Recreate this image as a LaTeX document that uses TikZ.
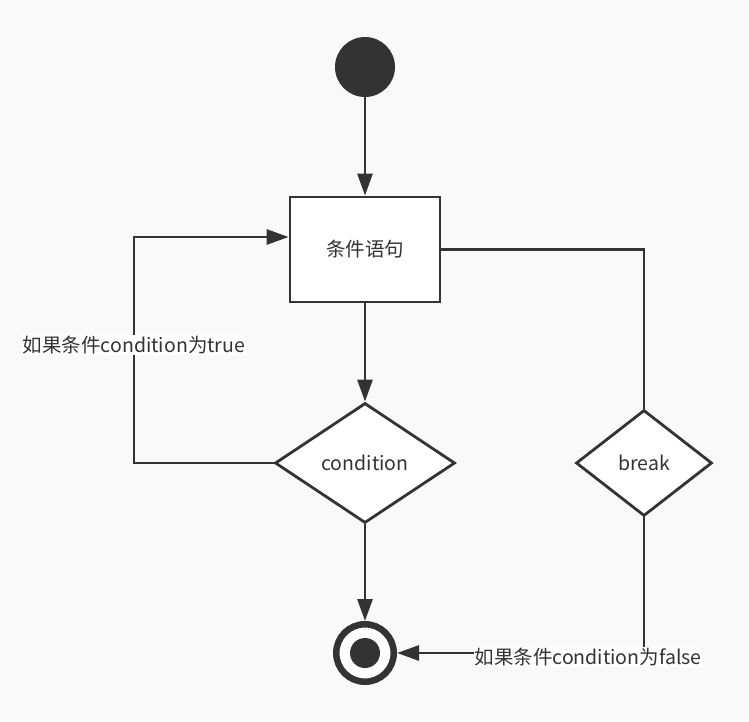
\documentclass[tikz,border=0pt]{standalone}
\usepackage{fontspec}
\setmainfont{Noto Sans CJK SC}
\usetikzlibrary{shapes.geometric,arrows.meta}
\definecolor{ink}{HTML}{333333}
\definecolor{paper}{HTML}{F9F9F9}
\tikzset{
	flow/.style={ink, line width=2.8pt},
	arr/.style={flow, -{Triangle[length=22pt,width=15pt]}},
	startdot/.style={circle, fill=ink, inner sep=0pt, minimum size=60pt},
	endring/.style={circle, draw=ink, line width=6.5pt, fill=white, inner sep=0pt, minimum size=57.5pt},
	stmtbox/.style={rectangle, draw=ink, line width=2.8pt, fill=white, minimum width=150pt, minimum height=105pt},
	decision/.style={diamond, draw=ink, line width=2.8pt, fill=white, inner sep=0pt},
	lbl/.style={fill=white, inner sep=1pt, text=ink}
}

\begin{document}
\begin{tikzpicture}[x=1pt,y=-1pt, font=\fontsize{19.5}{22}\selectfont, text=ink]
\useasboundingbox[fill=paper] (0,0) rectangle (749,721);
\node[startdot] (start) at (365,67) {};
\node[stmtbox] (stmt) at (365,249.5) {条件语句};
\node[decision, minimum width=180pt, minimum height=120pt] (cond) at (365,463) {condition};
\node[decision, minimum width=136pt, minimum height=106pt] (brk) at (644,463) {break};
\node[endring] (stop) at (365,653) {};
\node[startdot, minimum size=30pt] (stopdot) at (stop) {};
\coordinate (looptop) at (134,237);
\draw[arr] (start) -- (stmt);
\draw[arr] (stmt) -- (cond);
\draw[arr] (cond.west) -| (looptop) -- (stmt.west |- looptop);
\draw[arr] (cond) -- (stop);
\draw[flow] (stmt.east) -| (brk.north);
\draw[arr] (brk.south) |- (stop.east);
\node[lbl] (truelbl) at (134,345) {如果条件condition为true};
\node[lbl] (falselbl) at (588,657) {如果条件condition为false};
\end{tikzpicture}
\end{document}
